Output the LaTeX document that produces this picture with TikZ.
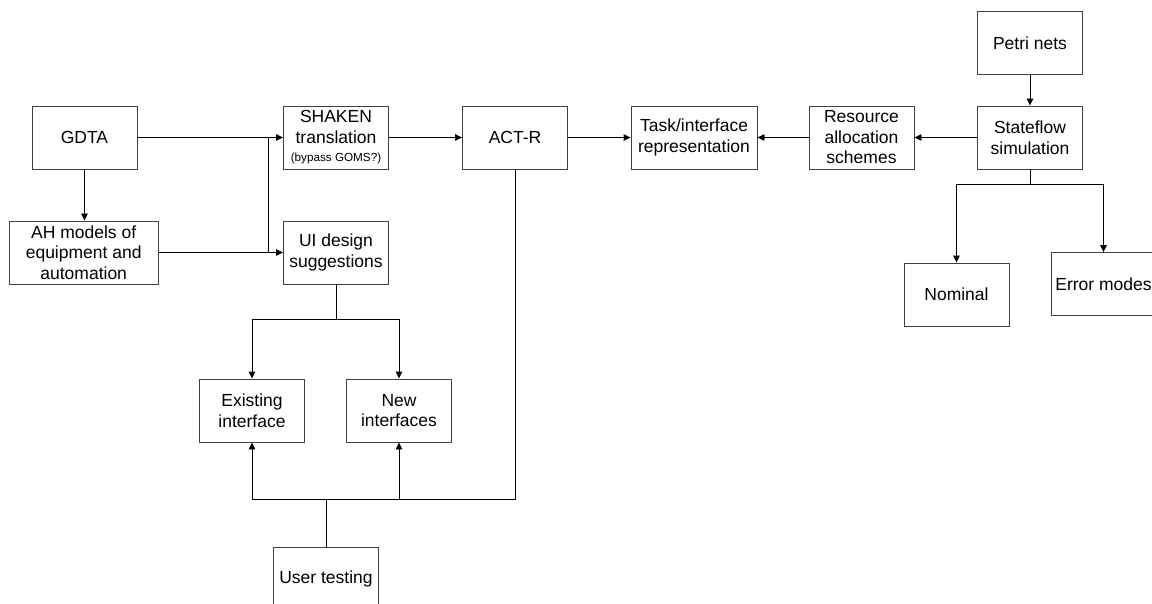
\documentclass[tikz,border=0pt]{standalone}
\usepackage{fontspec}
\setmainfont{Liberation Sans}
\usetikzlibrary{arrows.meta}
\begin{document}
\begin{tikzpicture}[x=1pt,y=-1pt,
  box/.style={draw=black!75,line width=0.9pt,minimum width=105pt,minimum height=63pt,
    inner sep=0pt,align=center,font=\fontsize{17.5}{20.5}\selectfont},
  conn/.style={line width=0.9pt,black},
  arr/.style={conn,-{Triangle[length=7pt,width=6.5pt]}}]
\useasboundingbox (0,0) rectangle (1152,604);
\node[box] (gdta) at (84.5,137.5) {GDTA};
\node[box] (shaken) at (336,137.5) {SHAKEN\\translation\\[-2pt]{\fontsize{11.7}{13}\selectfont (bypass GOMS?)}};
\node[box] (actr) at (515,137.5) {ACT-R};
\node[box,minimum width=126pt] (task) at (694,137.5) {Task/interface\\representation};
\node[box] (res) at (861.5,137.5) {Resource\\allocation\\schemes};
\node[box] (state) at (1030,137.5) {Stateflow\\simulation};
\node[box] (petri) at (1030,43) {Petri nets};
\node[box,minimum width=149pt] (ah) at (83.7,252.5) {AH models of\\equipment and\\automation};
\node[box] (ui) at (336,252.5) {UI design\\suggestions};
\node[box] (exist) at (252,410.5) {Existing\\interface};
\node[box] (new) at (399,410.5) {New\\interfaces};
\node[box] (user) at (326,578.5) {User testing};
\node[box] (nominal) at (956.5,294.5) {Nominal};
\node[box] (error) at (1103.5,284) {Error modes};
% coordinates
\coordinate (jx) at (268,0);
\coordinate (uis) at (336,319);
\coordinate (bot) at (0,499);
\coordinate (sts) at ([yshift=-15.5pt]state.south);
% connectors
\draw[arr] (gdta.east) -- (shaken.west);
\draw[arr] (gdta.south) -- (gdta.south |- ah.north);
\draw[arr] (ah.east) -- (ui.west);
\draw[conn] (jx |- gdta.east) -- (jx |- ah.east);
\draw[arr] (shaken.east) -- (actr.west);
\draw[arr] (actr.east) -- (task.west);
\draw[arr] (res.west) -- (task.east);
\draw[arr] (state.west) -- (res.east);
\draw[arr] (petri.south) -- (state.north);
\draw[conn] (ui.south) -- (uis);
\draw[arr] (uis) -| (exist.north);
\draw[arr] (uis) -| (new.north);
\draw[conn] (actr.south) -- (actr.south |- bot) -- (exist.south |- bot);
\draw[arr] (exist.south |- bot) -- (exist.south);
\draw[arr] (new.south |- bot) -- (new.south);
\draw[conn] (user.north) -- (user.north |- bot);
\draw[conn] (state.south) -- (sts);
\draw[arr] (sts) -| (nominal.north);
\draw[arr] (sts) -| (error.north);
\end{tikzpicture}
\end{document}
